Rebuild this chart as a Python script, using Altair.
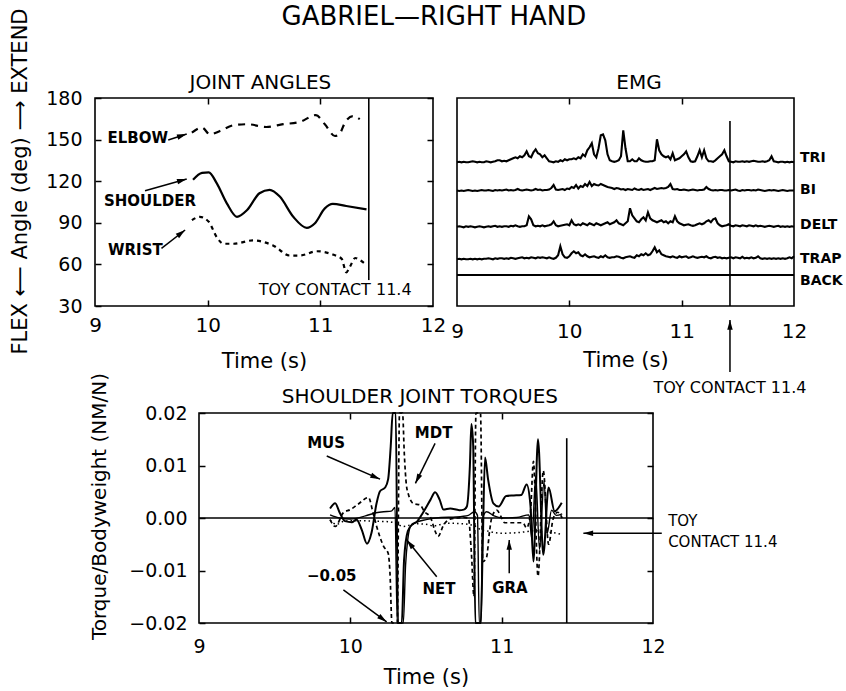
import math

import altair as alt
import pandas as pd

FONT = "DejaVu Sans"
INK = "black"

TOY_CONTACT = 11.43
TOY_TEXT = f"TOY CONTACT {TOY_CONTACT:.1f}"

# one drawing area that holds the three panels; each panel maps its data
# onto its own pixel box inside it
PLOT_W, PLOT_H = 699, 525
ANG_BOX = {"x": (0, 338), "y": (0, 208)}
EMG_BOX = {"x": (362, 699), "y": (0, 208)}
TOR_BOX = {"x": (104, 558), "y": (315, 525)}

TIME_DOMAIN = [9, 12]
ANG_DOMAIN = [30, 180]
EMG_DOMAIN = [0, 208]
TOR_DOMAIN = [-0.02, 0.02]

# arrow head with its tip at the symbol origin, pointing up before rotation
ARROW_HEAD = "M0,0L0.28,1L-0.28,1Z"

# ---------------------------------------------------------------- titles (placed in panel data units)
MAIN_TITLE = "GABRIEL\u2014RIGHT HAND"
main_title_t, main_title_v = 12.008, 238.4          # joint-angle coordinates
ang_title_t, ang_title_v = 10.468, 190.8
emg_title_t, emg_title_v = 10.62, 223.0
tor_title_t, tor_title_v = 10.46, 0.0230

# ---------------------------------------------------------------- joint angles (deg)
elbow_t = [9.86, 9.95, 10.02, 10.11, 10.23, 10.35, 10.52, 10.67, 10.82, 10.96,
           11.04, 11.13, 11.17, 11.22, 11.29, 11.35]
elbow_deg = [155.0, 158.6, 153.8, 156.2, 160.4, 161.1, 159.1, 161.1, 162.8, 167.7,
             161.1, 152.6, 154.0, 162.5, 167.0, 164.7]

shoulder_t = [9.87, 9.95, 10.01, 10.08, 10.17, 10.26, 10.35, 10.46, 10.55, 10.64,
              10.76, 10.88, 10.95, 11.04, 11.11, 11.23, 11.41]
shoulder_deg = [121.0, 126.0, 126.4, 118.6, 104.0, 94.3, 99.2, 111.3, 113.8, 108.9,
                94.3, 86.3, 89.5, 100.4, 103.6, 102.1, 99.7]

wrist_t = [9.86, 9.93, 10.01, 10.08, 10.14, 10.23, 10.40, 10.58, 10.73, 10.82,
           10.97, 11.11, 11.19, 11.23, 11.26, 11.31, 11.35, 11.40]
wrist_deg = [91.9, 94.3, 90.7, 79.8, 74.9, 74.9, 77.3, 73.7, 66.4, 66.4,
             69.5, 67.1, 64.0, 54.3, 57.9, 64.6, 63.2, 60.3]

ang_label_text = ["ELBOW", "SHOULDER", "WRIST"]
ang_label_t = [9.11, 9.08, 9.115]
ang_label_v = [151.1, 105.7, 70.4]
ang_arrow_t1 = [9.65, 9.444, 9.59]
ang_arrow_v1 = [149.7, 113.1, 71.6]
ang_arrow_t2 = [9.814, 9.814, 9.80]
ang_arrow_v2 = [154.0, 121.6, 84.8]

# ---------------------------------------------------------------- EMG (rectified, trace units)
# one sample every 0.02 s starting at 9.00 s, ten samples (0.2 s) per row
EMG_T0, EMG_DT = 9.0, 0.02
emg_tri = [
    0, 0.5, 0, 0.5, 0, 0, 0.5, 1, 0.5, 0,
    0.5, 0, 0, 1, 0.5, 0, 0.5, 1, 2, 2,
    1, 1.5, 1, 2, 3, 4, 5, 4, 6, 5,
    7, 11, 6, 5, 10, 13, 9, 8, 5, 7,
    4, 1, 0.5, 0, 1, 0.5, 2, 1, 3, 2,
    3, 3, 4, 3, 5, 4, 8, 6, 12, 15,
    19, 8, 5, 14, 27, 28, 22, 8, 2, 1,
    0.5, 1, 2, 6, 32, 14, 1, 1, 3, 1,
    1, 4, 2, 1, 0.5, 0.5, 1, 1, 2, 23,
    12, 8, 6, 5, 6, 3, 9, 2, 3, 4,
    6, 8, 11, 5, 1, 0.5, 1, 6, 12, 5,
    12, 4, 1, 1, 0.5, 2, 4, 6, 8, 12,
    6, 1, 0.5, 0, 1, 0.5, 0.5, 1, 0.5, 1,
    0.5, 1, 1.5, 1, 0.5, 0.5, 1, 0.5, 1, 2,
    6, 1, 0.5, 0, 0.5, 0.5, 0, 0.5, 0, 0.5,
    0,
]
emg_bi = [
    0.5, 0, 0.5, 0, 0.5, 1, 0.5, 0, 0.5, 0,
    0.5, 1, 0.5, 0.5, 1, 0.5, 0, 1, 0.5, 1,
    0.5, 1, 1.5, 0.5, 1, 0.5, 1, 2, 1, 0.5,
    1, 1.5, 1, 0.5, 1, 2, 1, 1.5, 0.5, 1,
    1, 1.5, 3, 6, 1.5, 1, 1.5, 2, 1, 2.5,
    2, 4, 3, 6, 2.5, 5, 4, 7, 5, 9,
    5, 7, 6, 5.5, 7, 6, 5, 4, 3.5, 3,
    2, 3, 2.5, 1.5, 2, 1, 2, 1.5, 1, 2.5,
    1.5, 1, 2, 1, 1.5, 2, 1, 2, 3, 2,
    2.5, 3, 2.5, 3, 4, 7, 2, 1.5, 2, 1,
    1, 1.5, 1, 0.5, 1, 1.5, 1, 0.5, 1, 1,
    1.5, 4, 2, 1, 0.5, 1, 0.5, 1, 1, 0.5,
    0.5, 1, 0.5, 1, 1.5, 0.5, 0, 1, 0.5, 1,
    1, 0.5, 1, 0.5, 1.5, 1, 0.5, 0, 0.5, 1,
    0.5, 1, 0.5, 0, 0.5, 1, 0.5, 0, 0.5, 0.5,
    0.5,
]
emg_delt = [
    0.5, 1, 0.5, 0, 1, 0.5, 1, 0.5, 0, 0.5,
    1, 0.5, 0, 0.5, 1, 0.5, 1, 1.5, 0.5, 1,
    0.5, 1, 1, 0.5, 1.5, 1, 2, 1, 0.5, 1,
    1, 2, 11, 8, 2, 1, 1.5, 1, 2, 1,
    1.5, 2, 3, 6, 2, 1, 1.5, 2, 2.5, 3,
    2, 7, 3, 2, 3, 2, 4, 3, 2, 4,
    3, 2, 4, 3, 2, 3, 4, 5, 3, 4,
    5, 7, 4, 3, 2, 4, 6, 19, 12, 9,
    6, 5, 8, 10, 7, 15, 9, 7, 6, 5,
    6, 7, 5, 6, 4, 6, 5, 11, 6, 4,
    3, 2, 2.5, 3, 2, 1.5, 2, 3, 4, 3,
    4, 6, 7, 5, 8, 9, 4, 2, 1, 1.5,
    2, 3, 1.5, 1, 2, 1.5, 1, 2, 1.5, 1,
    2, 1.5, 1, 2, 1, 1.5, 1, 0.5, 1, 1.5,
    1, 0.5, 1, 1.5, 0.5, 1, 0.5, 1, 0.5, 1,
    0.5,
]
emg_trap = [
    0, 0.5, 0, 0.5, 0, 0, 0.5, 0, 0.5, 0,
    0.5, 0, 0.5, 0.5, 1, 0.5, 0, 1, 0.5, 1,
    1, 0.5, 1, 0.5, 1.5, 1, 0.5, 1, 1.5, 2,
    1, 1.5, 1, 2, 1.5, 1, 2, 1.5, 2, 1.5,
    1, 2, 1, 0.5, 1.5, 4, 13, 5, 2, 1.5,
    3, 6, 8, 6, 7, 4, 3, 5, 3, 2,
    2.5, 3, 2, 1.5, 3, 2, 4, 2, 1.5, 2,
    2, 3, 2.5, 1.5, 1, 2, 2.5, 3, 2, 1.5,
    4, 3, 5, 4, 6, 4, 5, 8, 12, 7,
    9, 5, 4, 3, 2.5, 2, 3, 2, 1.5, 3,
    2, 2.5, 3, 1.5, 2, 3, 2, 1.5, 2, 2.5,
    2, 3, 1.5, 1, 2, 2.5, 1.5, 2, 1, 1.5,
    1, 1.5, 2, 1, 2, 1.5, 1, 2.5, 1, 1.5,
    1, 2, 1, 1.5, 3, 1, 0.5, 1, 0.5, 1,
    0.5, 1, 0.5, 1, 0.5, 1, 0.5, 1, 2, 1,
    3,
]
emg_back_t = [9.0, 12.0]
emg_back = [0.0, 0.0]

emg_names = ["TRI", "BI", "DELT", "TRAP", "BACK"]
emg_baselines = [143.7, 115.0, 78.7, 46.7, 31.0]
emg_label_t = 12.054
emg_label_v = [148.5, 116.0, 81.0, 47.0, 25.0]

# ---------------------------------------------------------------- shoulder torques (N·m / N)
mus_t = [9.866, 9.90, 9.93, 9.965, 10.01, 10.04, 10.075, 10.11, 10.14, 10.174,
         10.196, 10.23, 10.25, 10.267, 10.28, 10.30, 10.315, 10.34, 10.355, 10.38,
         10.41, 10.44, 10.48, 10.53, 10.56, 10.59, 10.615, 10.66, 10.72, 10.75,
         10.77, 10.79, 10.80, 10.812, 10.826, 10.845, 10.862, 10.875, 10.89, 10.91,
         10.945, 10.98, 11.03, 11.08, 11.13, 11.165, 11.19, 11.21, 11.24, 11.275,
         11.31, 11.35, 11.397]
mus_v = [0.0018, 0.0028, 0.0010, -0.0006, -0.0008, -0.0003, -0.0022, -0.0049, -0.0028, 0.0029,
         0.0051, 0.0058, 0.0074, 0.0137, 0.030, 0.050, -0.050, -0.050, -0.008, -0.0025,
         -0.0012, -0.0007, 0.0010, 0.0035, 0.0049, 0.0035, 0.0016, 0.0018, 0.0015, 0.0016,
         0.0022, 0.0099, 0.0179, 0.0137, -0.030, -0.030, -0.030, -0.005, 0.0115, 0.0074,
         0.0028, 0.0022, 0.0042, 0.0043, 0.0044, 0.0064, 0.0025, -0.0083, 0.0150, -0.0070,
         0.0058, 0.0013, 0.0029]

mdt_t = [9.866, 9.90, 9.954, 10.0, 10.05, 10.12, 10.15, 10.174, 10.22, 10.25,
         10.262, 10.275, 10.31, 10.325, 10.345, 10.357, 10.37, 10.385, 10.42, 10.46,
         10.49, 10.53, 10.56, 10.58, 10.615, 10.66, 10.75, 10.78, 10.80, 10.817,
         10.83, 10.86, 10.875, 10.90, 10.92, 10.934, 10.967, 11.0, 11.02, 11.09,
         11.14, 11.165, 11.19, 11.21, 11.24, 11.275, 11.31, 11.34, 11.37, 11.40]
mdt_v = [-0.0003, -0.0016, 0.0010, 0.0016, 0.0026, 0.0039, 0.0010, -0.0016, -0.0054, -0.0067,
         -0.0105, -0.050, -0.050, 0.050, 0.050, 0.012, 0.0064, 0.0044, 0.0027, 0.0025,
         0.0012, 0.0001, -0.0025, -0.0035, -0.0014, -0.0002, 0.0001, 0.0, -0.0067, -0.0150,
         0.030, 0.030, -0.0083, -0.0075, -0.0025, 0.0, 0.0015, 0.0, -0.0009, -0.0009,
         -0.0009, -0.0019, 0.0010, 0.0108, -0.0111, 0.0090, -0.0050, -0.0002, 0.0011, 0.0]

gra_t = [9.866, 9.91, 9.96, 10.05, 10.15, 10.25, 10.30, 10.35, 10.40, 10.44,
         10.50, 10.55, 10.60, 10.65, 10.75, 10.82, 10.86, 10.91, 10.96, 11.01,
         11.10, 11.165, 11.22, 11.28, 11.34, 11.39]
gra_v = [-0.0004, -0.0012, -0.0006, -0.0005, -0.0006, -0.0007, -0.0010, -0.0016, -0.0013, -0.0011,
         -0.0012, -0.0015, -0.0012, -0.0010, -0.0011, -0.0015, -0.0022, -0.0025, -0.0028, -0.0029,
         -0.0028, -0.0026, -0.0024, -0.0027, -0.0028, -0.0031]

net_t = [9.866, 9.93, 10.0, 10.1, 10.17, 10.22, 10.27, 10.295, 10.31, 10.35,
         10.365, 10.38, 10.40, 10.44, 10.50, 10.60, 10.70, 10.78, 10.82, 10.84,
         10.852, 10.864, 10.874, 10.90, 10.95, 11.0, 11.1, 11.18, 11.20, 11.225,
         11.25, 11.28, 11.30, 11.33, 11.36, 11.40]
net_v = [0.0006, 0.0, -0.0002, 0.0004, 0.0010, 0.0012, 0.0013, 0.0020, -0.050, -0.050,
         -0.009, -0.0040, -0.0015, -0.0008, -0.0003, 0.0001, 0.0002, 0.0005, 0.0012, 0.0005,
         -0.030, -0.030, 0.0, 0.0012, 0.0004, 0.0, 0.0001, 0.0006, -0.0040, 0.0080,
         -0.0060, 0.0070, -0.0030, 0.0015, 0.0005, 0.0008]

tor_label_text = ["MUS", "MDT", "NET", "GRA", "\u22120.05"]
tor_label_t = [9.84, 10.55, 10.586, 11.055, 9.877]
tor_label_v = [0.0142, 0.0161, -0.0136, -0.0134, -0.0110]
tor_arrow_t1 = [9.844, 10.56, 10.571, 11.05, 9.954, 12.058]
tor_arrow_v1 = [0.0118, 0.0142, -0.0112, -0.0105, -0.0137, -0.0029]
tor_arrow_t2 = [10.196, 10.43, 10.373, 11.05, 10.24, 11.54]
tor_arrow_v2 = [0.0074, 0.0066, -0.0042, -0.0042, -0.0198, -0.0029]
tor_toy_text = ["TOY", f"CONTACT {TOY_CONTACT:.1f}"]
tor_toy_t = 12.10
tor_toy_v = [-0.0006, -0.0045]

for a, b in [(elbow_t, elbow_deg), (shoulder_t, shoulder_deg), (wrist_t, wrist_deg),
             (mus_t, mus_v), (mdt_t, mdt_v), (gra_t, gra_v), (net_t, net_v)]:
    assert len(a) == len(b)


# ---------------------------------------------------------------- helpers
def scales(box, ydomain, clamp=False):
    xs = alt.Scale(domain=TIME_DOMAIN, range=list(box["x"]), nice=False, zero=False)
    ys = alt.Scale(domain=ydomain, range=[box["y"][1], box["y"][0]], nice=False, zero=False,
                   clamp=clamp)
    return xs, ys


def label_axis_x(box, values, label_size, label_pad, title_pad):
    return alt.Axis(orient="bottom", offset=-(PLOT_H - box["y"][1]), values=values, format="d",
                    ticks=False, tickSize=0, domain=False, grid=False,
                    labelFontSize=label_size, labelPadding=label_pad, labelFlush=False,
                    labelOverlap=False, title="Time (s)", titleFontSize=21,
                    titlePadding=title_pad, titleX=sum(box["x"]) / 2, titleAlign="center")


def inward_x(box, edge, values):
    # axis moved onto a panel edge, ticks pointing into the panel
    if edge == "bottom":
        return alt.Axis(orient="top", offset=-box["y"][1], values=values, labels=False,
                        tickSize=6, tickWidth=1.5, domain=False, grid=False, title=None)
    return alt.Axis(orient="bottom", offset=-(PLOT_H - box["y"][0]), values=values,
                    labels=False, tickSize=6, tickWidth=1.5, domain=False, grid=False,
                    title=None)


def inward_y(box, edge, values):
    if edge == "left":
        return alt.Axis(orient="right", offset=-(PLOT_W - box["x"][0]), values=values,
                        labels=False, tickSize=6, tickWidth=1.5, domain=False, grid=False,
                        title=None)
    return alt.Axis(orient="left", offset=-box["x"][1], values=values, labels=False,
                    tickSize=6, tickWidth=1.5, domain=False, grid=False, title=None)


def series(t, v):
    return pd.DataFrame({"t": t, "v": v})


def frame(xs, ys, ydomain):
    df = pd.DataFrame({"t": [TIME_DOMAIN[0]], "t2": [TIME_DOMAIN[1]],
                       "v": [ydomain[0]], "v2": [ydomain[1]]})
    return alt.Chart(df).mark_rect(filled=False, color=INK, strokeWidth=1.6).encode(
        x=alt.X("t:Q", scale=xs, axis=None), x2="t2:Q",
        y=alt.Y("v:Q", scale=ys, axis=None), y2="v2:Q")


def text_layer(t, v, labels, xs, ys, size, weight="normal", align="center"):
    df = pd.DataFrame({"t": t, "v": v, "label": labels})
    return alt.Chart(df).mark_text(
        align=align, baseline="middle", fontSize=size, fontWeight=weight, color=INK).encode(
        x=alt.X("t:Q", scale=xs, axis=None), y=alt.Y("v:Q", scale=ys, axis=None),
        text="label:N")


def vrule(t, v, v2, xs, ys):
    df = pd.DataFrame({"t": [t], "v": [v], "v2": [v2]})
    return alt.Chart(df).mark_rule(color=INK, strokeWidth=1.6).encode(
        x=alt.X("t:Q", scale=xs, axis=None), y=alt.Y("v:Q", scale=ys, axis=None), y2="v2:Q")


def arrows(t1, v1, t2, v2, xs, ys, box, xdom, ydom):
    kx = (box["x"][1] - box["x"][0]) / (xdom[1] - xdom[0])
    ky = (box["y"][1] - box["y"][0]) / (ydom[1] - ydom[0])
    ang = []
    for a, b, c, d in zip(t1, v1, t2, v2):
        dx = (c - a) * kx
        dy = -(d - b) * ky
        ang.append(math.degrees(math.atan2(dx, -dy)) % 360)
    df = pd.DataFrame({"t1": t1, "v1": v1, "t2": t2, "v2": v2, "ang": ang})
    shaft = alt.Chart(df).mark_rule(color=INK, strokeWidth=1.5).encode(
        x=alt.X("t1:Q", scale=xs, axis=None), y=alt.Y("v1:Q", scale=ys, axis=None),
        x2="t2:Q", y2="v2:Q")
    head = alt.Chart(df).mark_point(shape=ARROW_HEAD, filled=True, color=INK, opacity=1,
                                    size=380).encode(
        x=alt.X("t2:Q", scale=xs, axis=None), y=alt.Y("v2:Q", scale=ys, axis=None),
        angle=alt.Angle("ang:Q", scale=None))
    return [shaft, head]


# ---------------------------------------------------------------- joint angles panel
ax, ay = scales(ANG_BOX, ANG_DOMAIN)
ang_ticks_y = [30, 60, 90, 120, 150, 180]

shoulder_line = alt.Chart(series(shoulder_t, shoulder_deg)).mark_line(
    color=INK, strokeWidth=2.2, interpolate="monotone").encode(
    x=alt.X("t:Q", scale=ax, axis=label_axis_x(ANG_BOX, [9, 10, 11, 12], 20, 9, 15)),
    y=alt.Y("v:Q", scale=ay, axis=alt.Axis(
        orient="left", offset=-ANG_BOX["x"][0], values=ang_ticks_y, ticks=False, tickSize=0,
        domain=False, grid=False, labelFontSize=19, labelPadding=13, labelFlush=False,
        labelOverlap=False, title="FLEX \u27f5 Angle (deg) \u27f6 EXTEND", titleFontSize=21,
        titleAngle=270, titleX=-75, titleY=83, titleAlign="center",
        titleBaseline="middle")))

elbow_line = alt.Chart(series(elbow_t, elbow_deg)).mark_line(
    color=INK, strokeWidth=2.2, strokeDash=[7, 6], interpolate="monotone").encode(
    x=alt.X("t:Q", scale=ax, axis=inward_x(ANG_BOX, "bottom", [10, 11])),
    y=alt.Y("v:Q", scale=ay, axis=inward_y(ANG_BOX, "left", ang_ticks_y)))

wrist_line = alt.Chart(series(wrist_t, wrist_deg)).mark_line(
    color=INK, strokeWidth=2.2, strokeDash=[4, 4], interpolate="monotone").encode(
    x=alt.X("t:Q", scale=ax, axis=inward_x(ANG_BOX, "top", [10, 11])),
    y=alt.Y("v:Q", scale=ay, axis=inward_y(ANG_BOX, "right", ang_ticks_y)))

angle_layers = [
    frame(ax, ay, ANG_DOMAIN), shoulder_line, elbow_line, wrist_line,
    vrule(TOY_CONTACT, 48.7, 180.0, ax, ay),
    text_layer(ang_label_t, ang_label_v, ang_label_text, ax, ay, 15, "bold", "left"),
    text_layer([11.81], [41.5], [TOY_TEXT], ax, ay, 16, align="right"),
    text_layer([ang_title_t], [ang_title_v], ["JOINT ANGLES"], ax, ay, 20),
    text_layer([main_title_t], [main_title_v], [MAIN_TITLE], ax, ay, 26),
    *arrows(ang_arrow_t1, ang_arrow_v1, ang_arrow_t2, ang_arrow_v2, ax, ay,
            ANG_BOX, TIME_DOMAIN, ANG_DOMAIN),
]

# ---------------------------------------------------------------- EMG panel
ex, ey = scales(EMG_BOX, EMG_DOMAIN)
emg_frames = []
for name, base, vals in zip(emg_names[:4], emg_baselines[:4],
                            [emg_tri, emg_bi, emg_delt, emg_trap]):
    emg_frames.append(pd.DataFrame({
        "t": [EMG_T0 + EMG_DT * i for i in range(len(vals))],
        "v": [base + a for a in vals],
        "muscle": name}))
emg_frames.append(pd.DataFrame({"t": emg_back_t, "v": [emg_baselines[4] + a for a in emg_back],
                                "muscle": "BACK"}))
emg_df = pd.concat(emg_frames, ignore_index=True)

emg_lines = alt.Chart(emg_df).mark_line(color=INK, strokeWidth=2.1).encode(
    x=alt.X("t:Q", scale=ex, axis=label_axis_x(EMG_BOX, [9, 10, 11, 12], 20, 15, 8)),
    y=alt.Y("v:Q", scale=ey, axis=None),
    detail="muscle:N")

emg_top_ticks = alt.Chart(series([TOY_CONTACT], [0.0])).mark_point(opacity=0).encode(
    x=alt.X("t:Q", scale=ex, axis=inward_x(EMG_BOX, "top", [10, 11])),
    y=alt.Y("v:Q", scale=ey, axis=None))
emg_bottom_ticks = alt.Chart(series([TOY_CONTACT], [0.0])).mark_point(opacity=0).encode(
    x=alt.X("t:Q", scale=ex, axis=inward_x(EMG_BOX, "bottom", [10, 11])),
    y=alt.Y("v:Q", scale=ey, axis=None))

emg_layers = [
    frame(ex, ey, EMG_DOMAIN), emg_lines, emg_top_ticks, emg_bottom_ticks,
    vrule(TOY_CONTACT, 0.0, 185.0, ex, ey),
    text_layer([emg_label_t] * len(emg_names), emg_label_v, emg_names, ex, ey, 14, "bold",
               "left"),
    text_layer([TOY_CONTACT], [-82.0], [TOY_TEXT], ex, ey, 16),
    text_layer([emg_title_t], [emg_title_v], ["EMG"], ex, ey, 20),
    *arrows([TOY_CONTACT], [-66.0], [TOY_CONTACT], [-14.0], ex, ey,
            EMG_BOX, TIME_DOMAIN, EMG_DOMAIN),
]

# ---------------------------------------------------------------- torque panel
# traces that leave the +/-0.02 window are held at the panel edge (clamped scale);
# labels and arrows use the same mapping without clamping
tx, ty = scales(TOR_BOX, TOR_DOMAIN, clamp=True)
tx_free, ty_free = scales(TOR_BOX, TOR_DOMAIN)
tor_ticks_y = [-0.02, -0.01, 0.0, 0.01, 0.02]

mus_line = alt.Chart(series(mus_t, mus_v)).mark_line(
    color=INK, strokeWidth=2.0, interpolate="monotone").encode(
    x=alt.X("t:Q", scale=tx, axis=label_axis_x(TOR_BOX, [9, 10, 11, 12], 19, 14, 10)),
    y=alt.Y("v:Q", scale=ty, axis=alt.Axis(
        orient="left", offset=-TOR_BOX["x"][0], values=tor_ticks_y, format=".2f",
        ticks=False, tickSize=0, domain=False, grid=False, labelFontSize=19, labelPadding=12,
        labelFlush=False, labelOverlap=False, title="Torque/Bodyweight (NM/N)",
        titleFontSize=20, titleAngle=270, titleX=-100, titleY=408, titleAlign="center",
        titleBaseline="middle")))

mdt_line = alt.Chart(series(mdt_t, mdt_v)).mark_line(
    color=INK, strokeWidth=1.7, strokeDash=[4, 3], interpolate="monotone").encode(
    x=alt.X("t:Q", scale=tx, axis=inward_x(TOR_BOX, "bottom", [10, 11])),
    y=alt.Y("v:Q", scale=ty, axis=inward_y(TOR_BOX, "left", tor_ticks_y)))

gra_line = alt.Chart(series(gra_t, gra_v)).mark_line(
    color=INK, strokeWidth=1.5, strokeDash=[1.5, 3], interpolate="monotone").encode(
    x=alt.X("t:Q", scale=tx, axis=inward_x(TOR_BOX, "top", [10, 11])),
    y=alt.Y("v:Q", scale=ty, axis=inward_y(TOR_BOX, "right", tor_ticks_y)))

net_line = alt.Chart(series(net_t, net_v)).mark_line(
    color=INK, strokeWidth=1.4, interpolate="monotone").encode(
    x=alt.X("t:Q", scale=tx, axis=None), y=alt.Y("v:Q", scale=ty, axis=None))

zero_line = alt.Chart(pd.DataFrame({"t": [TIME_DOMAIN[0]], "t2": [TIME_DOMAIN[1]],
                                    "v": [0.0]})).mark_rule(color=INK, strokeWidth=1.6).encode(
    x=alt.X("t:Q", scale=tx, axis=None), x2="t2:Q", y=alt.Y("v:Q", scale=ty, axis=None))

torque_layers = [
    mus_line, mdt_line, gra_line, net_line, zero_line,
    vrule(TOY_CONTACT, -0.02, 0.0152, tx, ty),
    text_layer(tor_label_t, tor_label_v, tor_label_text, tx_free, ty_free, 15, "bold"),
    text_layer([tor_toy_t] * 2, tor_toy_v, tor_toy_text, tx_free, ty_free, 15, align="left"),
    text_layer([tor_title_t], [tor_title_v], ["SHOULDER JOINT TORQUES"], tx_free, ty_free, 20),
    *arrows(tor_arrow_t1, tor_arrow_v1, tor_arrow_t2, tor_arrow_v2, tx_free, ty_free,
            TOR_BOX, TIME_DOMAIN, TOR_DOMAIN),
    frame(tx, ty, TOR_DOMAIN),
]

chart = alt.layer(*angle_layers, *emg_layers, *torque_layers).resolve_scale(
    x="independent", y="independent"
).properties(
    width=PLOT_W, height=PLOT_H,
    padding={"left": 8, "top": 4, "right": 0, "bottom": 0},
).configure_view(strokeWidth=0).configure_axis(
    labelFont=FONT, titleFont=FONT, labelColor=INK, titleColor=INK, tickColor=INK,
    titleFontWeight="normal",
).configure_text(font=FONT)

chart.save("out.html", embed_options={"renderer": "svg", "actions": False})
